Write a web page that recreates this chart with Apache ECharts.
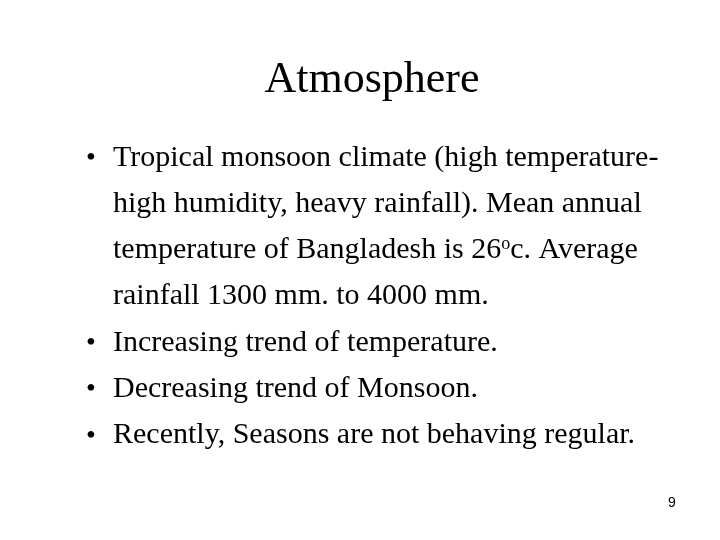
<!DOCTYPE html>
<html>
<head>
<meta charset="utf-8">
<script src="https://cdn.jsdelivr.net/npm/echarts@6/dist/echarts.min.js"></script>
<style>html,body{margin:0;padding:0;background:#fff}#main{width:720px;height:540px}</style>
</head>
<body>
<div id="main"></div>
<script>
var title = 'Atmosphere';
var bulletLines = [
  ['•', 'Tropical monsoon climate (high temperature-'],
  ['', 'high humidity, heavy rainfall). Mean annual'],
  ['', 'temperature of Bangladesh is 26{sup|o}c. Average'],
  ['', 'rainfall 1300 mm. to 4000 mm.'],
  ['•', 'Increasing trend of temperature.'],
  ['•', 'Decreasing trend of Monsoon.'],
  ['•', 'Recently, Seasons are not behaving regular.']
];
var pageNumber = '9';

var serif = '"Liberation Serif", "DejaVu Serif", serif';
var elements = [{
  type: 'text', x: 372, y: 58,
  style: { text: title, font: '44px ' + serif, fill: '#000', align: 'center' }
}];
bulletLines.forEach(function (ln, i) {
  var y = 143 + i * 46.2;
  if (ln[0]) {
    elements.push({ type: 'text', x: 86, y: y + 2,
      style: { text: ln[0], font: '28px ' + serif, fill: '#000' } });
  }
  elements.push({ type: 'text', x: 113, y: y,
    style: { text: ln[1], font: '30px ' + serif, fill: '#000',
      rich: { sup: { fontSize: 18, fontFamily: serif, verticalAlign: 'top', padding: [0, 0, 12, 0] } } } });
});
elements.push({ type: 'text', x: 668, y: 496,
  style: { text: pageNumber, font: '14px "Liberation Sans", Arial, sans-serif', fill: '#000' } });

var chart = echarts.init(document.getElementById('main'));
chart.setOption({ backgroundColor: '#fff', graphic: elements });
</script>
</body>
</html>
